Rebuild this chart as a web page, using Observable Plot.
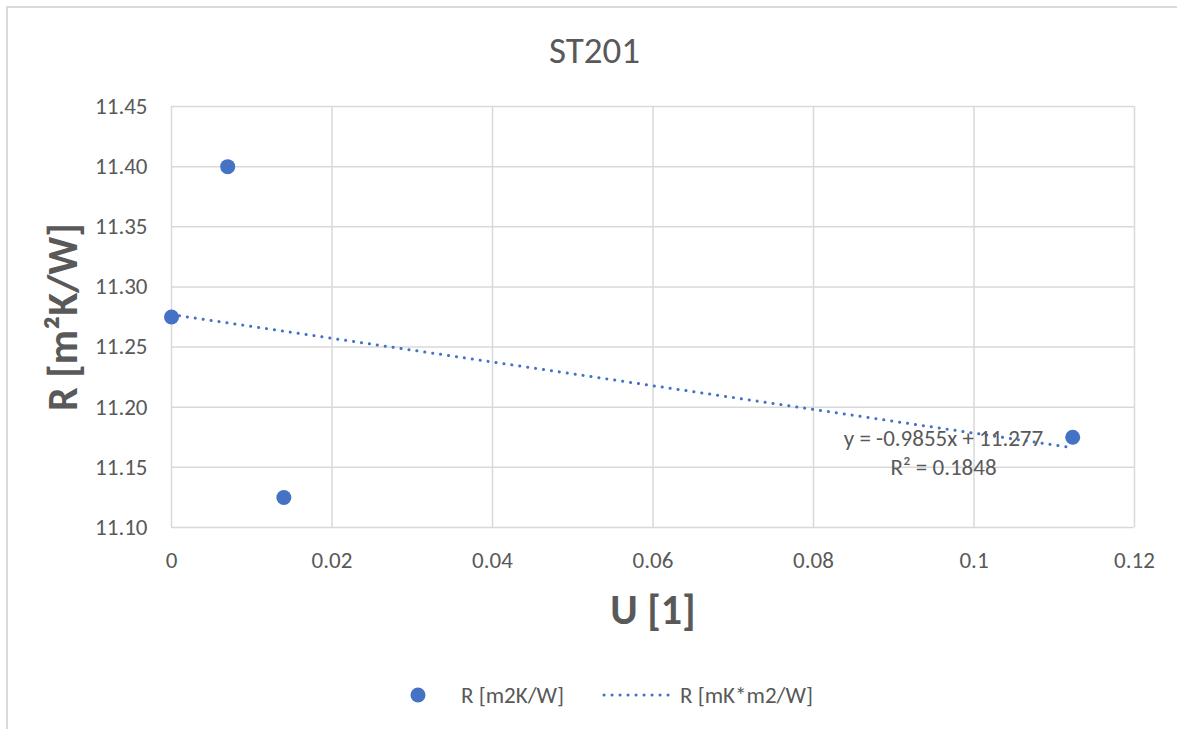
<!DOCTYPE html>
<html>
<head>
<meta charset="utf-8">
<script src="https://cdn.jsdelivr.net/npm/d3@7"></script>
<script src="https://cdn.jsdelivr.net/npm/@observablehq/plot@0.6"></script>
<style>
  html, body { margin: 0; padding: 0; background: #fff; }
  #chart { position: relative; width: 1177px; height: 729px; overflow: hidden;
    font-family: Carlito, Calibri, "Liberation Sans", Arial, sans-serif; color: #595959; }
  #frame { position: absolute; left: 6px; top: 6px; width: 1178px; height: 760px;
    border: 2px solid #d9d9d9; box-sizing: border-box; pointer-events: none; }
  #title { position: relative; height: 80px; box-sizing: border-box; padding-top: 32px;
    text-align: center; font-size: 37px; line-height: 1; padding-left: 12px; }
  #plot svg { display: block; }
  #legend { position: relative; height: 69px; font-size: 23px; }
  #legend .item { position: absolute; top: 0; line-height: 1; }
  g[aria-label="x-axis label"] text, g[aria-label="y-axis label"] text { font-weight: bold; font-size: 42px; }
</style>
</head>
<body>
<div id="chart">
  <div id="frame"></div>
  <div id="title">ST201</div>
  <div id="plot"></div>
  <div id="legend"></div>
</div>
<script>
// ---- data ----
const uValues = [0, 0.007, 0.014, 0.1123];
const rValues = [11.275, 11.40, 11.125, 11.175];
const seriesName = "R [m2K/W]";
const trendName = "R [mK*m2/W]";
const trendSlope = -0.9855;
const trendIntercept = 11.277;
const trendR2 = 0.1848;
const xTicks = [0, 0.02, 0.04, 0.06, 0.08, 0.1, 0.12];
const xTickLabels = ["0", "0.02", "0.04", "0.06", "0.08", "0.1", "0.12"];
const yTicks = [11.10, 11.15, 11.20, 11.25, 11.30, 11.35, 11.40, 11.45];
const yTickLabels = ["11.10", "11.15", "11.20", "11.25", "11.30", "11.35", "11.40", "11.45"];
const eqLabelU = 0.0962;   // label anchor in data units
const eqLabelR = 11.1635;

const points = uValues.map((u, i) => ({u, r: rValues[i]}));
const trendU = [d3.min(uValues), d3.max(uValues)];
const trend = trendU.map(u => ({u, r: trendIntercept + trendSlope * u}));
const eqText = `y = ${trendSlope}x + ${trendIntercept}\nR² = ${trendR2}`;

const blue = "#4472C4";
const grey = "#595959";
const gridColor = "#d9d9d9";

const chart = Plot.plot({
  width: 1177,
  height: 580,
  marginTop: 26,
  marginBottom: 133,
  marginLeft: 171,
  marginRight: 43,
  style: {fontFamily: 'Carlito, Calibri, "Liberation Sans", Arial, sans-serif', color: grey, background: "transparent"},
  x: {domain: [0, 0.12]},
  y: {domain: [11.10, 11.45]},
  marks: [
    Plot.gridX(xTicks, {stroke: gridColor, strokeOpacity: 1, strokeWidth: 1.5}),
    Plot.gridY(yTicks, {stroke: gridColor, strokeOpacity: 1, strokeWidth: 1.5}),
    Plot.axisX({ticks: xTicks, tickFormat: d => xTickLabels[xTicks.indexOf(d)], tickSize: 0, tickPadding: 24,
      fontSize: 23, fill: grey, label: "U [1]", labelArrow: "none", labelAnchor: "center", labelOffset: 96}),
    Plot.axisY({ticks: yTicks, tickFormat: d => yTickLabels[yTicks.indexOf(d)], tickSize: 0, tickPadding: 24,
      fontSize: 23, fill: grey, label: "R [m²K/W]", labelArrow: "none", labelAnchor: "center", labelOffset: 124}),
    Plot.line(trend, {x: "u", y: "r", stroke: blue, strokeWidth: 3, strokeDasharray: "0.1 7.9", strokeLinecap: "round"}),
    Plot.dot(points, {x: "u", y: "r", r: 7.5, fill: blue, stroke: "none"}),
    Plot.text([eqText], {x: () => eqLabelU, y: () => eqLabelR, text: d => d, fontSize: 23, fill: grey, lineHeight: 1.25, textAnchor: "middle"})
  ]
});
document.getElementById("plot").appendChild(chart);

// ---- legend ----
const legend = d3.select("#legend");
const s1 = legend.append("div").attr("class", "item").style("left", "408px").style("top", "25px");
s1.append("svg").attr("width", 20).attr("height", 20).append("circle")
  .attr("cx", 10).attr("cy", 10).attr("r", 7.5).attr("fill", blue);
legend.append("div").attr("class", "item").style("left", "461px").style("top", "24px").text(seriesName);
const s2 = legend.append("div").attr("class", "item").style("left", "601px").style("top", "25px");
s2.append("svg").attr("width", 74).attr("height", 20).append("line")
  .attr("x1", 3).attr("x2", 71).attr("y1", 10).attr("y2", 10)
  .attr("stroke", blue).attr("stroke-width", 3).attr("stroke-dasharray", "0.1 7.9").attr("stroke-linecap", "round");
legend.append("div").attr("class", "item").style("left", "680px").style("top", "24px").text(trendName);
</script>
</body>
</html>
